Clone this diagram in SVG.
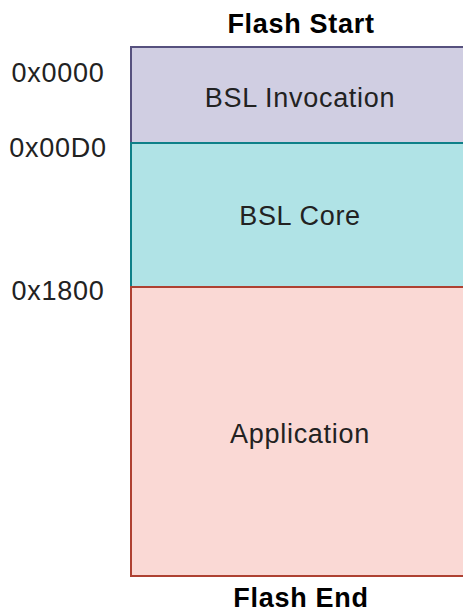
<svg xmlns="http://www.w3.org/2000/svg" width="463" height="614" viewBox="0 0 463 614">
<style>
text{font-family:"Liberation Sans",Arial,sans-serif;font-size:27px;letter-spacing:0.7px;fill:#000}
.t{fill:#222;text-anchor:middle}
.a{fill:#222;text-anchor:middle}
.h{font-weight:bold;text-anchor:middle}
rect{stroke-width:2}
</style>
<rect width="463" height="614" fill="#fff"/>
<g id="bsl-invocation">
<rect x="131" y="47" width="340" height="96" fill="#d0cee2" stroke="#56517e"/>
<text class="t" x="300" y="107">BSL Invocation</text>
</g>
<g id="bsl-core">
<rect x="131" y="143" width="340" height="144" fill="#b0e3e6" stroke="#0e8088"/>
<text class="t" x="300" y="225">BSL Core</text>
</g>
<g id="application">
<rect x="131" y="287" width="340" height="289" fill="#fad9d5" stroke="#ae4132"/>
<text class="t" x="300" y="443">Application</text>
</g>
<g id="labels">
<text class="h" x="301" y="33">Flash Start</text>
<text class="h" x="301" y="607">Flash End</text>
<text class="a" x="58" y="82">0x0000</text>
<text class="a" x="58" y="157">0x00D0</text>
<text class="a" x="58" y="300">0x1800</text>
</g>
<g id="connectors"></g>
</svg>
